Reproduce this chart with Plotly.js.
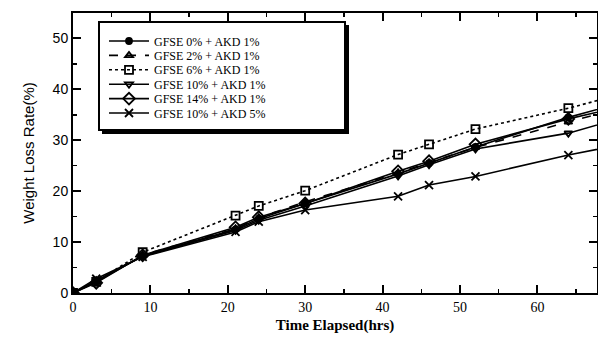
<!DOCTYPE html>
<html><head><meta charset="utf-8">
<script src="https://cdn.plot.ly/plotly-3.0.1.min.js"></script>
<style>body{margin:0;background:#fff}#c{width:598px;height:338px}</style>
</head><body><div id="c"></div>
<script>
const hours = [0, 3, 9, 21, 24, 30, 42, 46, 52, 64, 70];
const names = ["GFSE 0% + AKD 1%", "GFSE 2% + AKD 1%", "GFSE 6% + AKD 1%",
               "GFSE 10% + AKD 1%", "GFSE 14% + AKD 1%", "GFSE 10% + AKD 5%"];
const gfse0  = [0, 2.2, 7.3, 12.5, 14.6, 17.6, 23.4, 25.5, 28.7, 34.5, 37.0];
const gfse2  = [0, 2.3, 7.5, 12.6, 14.8, 17.9, 23.6, 25.6, 28.6, 33.6, 36.0];
const gfse6  = [0, 2.2, 8.0, 15.2, 17.1, 20.1, 27.2, 29.2, 32.2, 36.3, 38.7];
const gfse10 = [0, 2.4, 7.2, 12.3, 14.3, 17.1, 23.0, 25.2, 28.3, 31.4, 34.0];
const gfse14 = [0, 2.0, 7.4, 12.9, 14.9, 17.6, 23.9, 25.9, 29.2, 34.2, 36.3];
const akd5   = [0, 2.8, 7.1, 12.0, 14.0, 16.3, 19.0, 21.2, 22.9, 27.1, 28.9];

const series = [gfse0, gfse2, gfse6, gfse10, gfse14, akd5];
const dashes = ["solid", "dash", "dot", "solid", "solid", "solid"];
const symbols = ["circle", "triangle-up-open", "square-open", "triangle-down-open", "diamond-open", "x-thin-open"];
const msize = [6, 7, 8, 7, 9, 8];

const W = 598, H = 338, ML = 73, MR = 1, MT = 13, MB = 45;
const PW = W - ML - MR, PH = H - MT - MB;
const px2x = p => (p - ML) / PW;
const py2y = p => (H - MB - p) / PH;

const legendIds = ["legend", "legend2", "legend3", "legend4", "legend5", "legend6"];

const traces = series.map((s, i) => ({
  x: hours, y: s, name: names[i], type: "scatter", mode: "lines+markers",
  legend: legendIds[i],
  line: {color: "#000", width: 1.6, dash: dashes[i]},
  marker: {symbol: symbols[i], size: msize[i], color: "#000",
           line: {color: "#000", width: 1.8}},
  cliponaxis: true
}));

const layout = {
  width: W, height: H,
  margin: {l: ML, r: MR, t: MT, b: MB},
  paper_bgcolor: "#fff", plot_bgcolor: "#fff",
  showlegend: true,
  xaxis: {range: [0, 67.7], tickvals: [0, 10, 20, 30, 40, 50, 60],
          ticks: "inside", ticklen: 8, tickwidth: 2, tickcolor: "#000",
          minor: {dtick: 5, ticks: "inside", ticklen: 4, tickwidth: 1.5, tickcolor: "#000"},
          showline: true, linecolor: "#000", linewidth: 2, mirror: "ticks",
          showgrid: false, zeroline: false,
          tickfont: {family: "Liberation Serif", size: 14, color: "#000"},
          title: {text: "<b>Time Elapsed(hrs)</b>", standoff: 6,
                  font: {family: "Liberation Serif", size: 15, color: "#000"}}},
  yaxis: {range: [0, 55], tickvals: [0, 10, 20, 30, 40, 50],
          ticks: "inside", ticklen: 8, tickwidth: 2, tickcolor: "#000",
          minor: {dtick: 5, ticks: "inside", ticklen: 4, tickwidth: 1.5, tickcolor: "#000"},
          showline: true, linecolor: "#000", linewidth: 2, mirror: "ticks",
          showgrid: false, zeroline: false,
          tickfont: {family: "Liberation Sans", size: 14, color: "#000"},
          title: {text: "Weight Loss Rate(%)", standoff: 14,
                  font: {family: "Liberation Sans", size: 15, color: "#000"}}},
  shapes: [
    {type: "rect", xref: "paper", yref: "paper", layer: "above",
     x0: px2x(102), x1: px2x(349), y0: py2y(134), y1: py2y(25),
     fillcolor: "#000", line: {width: 0}},
    {type: "rect", xref: "paper", yref: "paper", layer: "above",
     x0: px2x(99), x1: px2x(345), y0: py2y(130), y1: py2y(22),
     fillcolor: "#fff", line: {color: "#000", width: 2}}
  ]
};
legendIds.forEach((id, i) => {
  layout[id] = {x: px2x(104), y: py2y(41 + 14.4 * i), xanchor: "left", yanchor: "middle",
                bgcolor: "rgba(0,0,0,0)", borderwidth: 0, itemwidth: 40,
                font: {family: "Liberation Serif", size: 12, color: "#000"}};
});
Plotly.newPlot("c", traces, layout, {displayModeBar: false, staticPlot: true});
</script></body></html>
